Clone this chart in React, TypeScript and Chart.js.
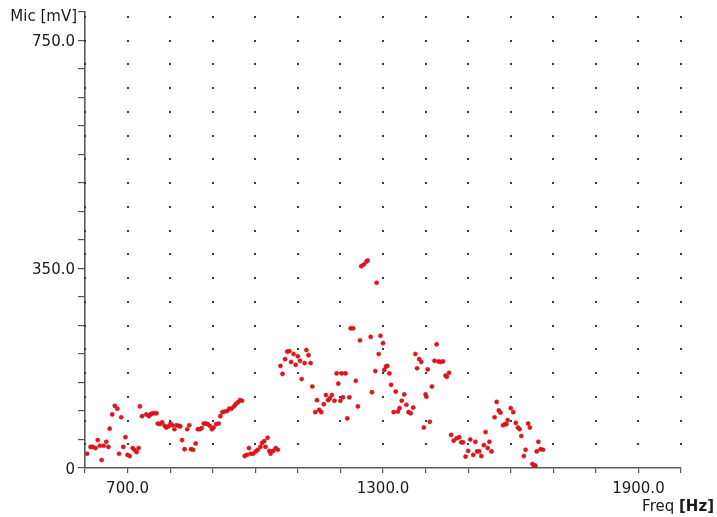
import React, { useEffect, useRef } from "react";
import { Chart, registerables } from "chart.js";

Chart.register(...registerables);

const freqHz = [
  605, 613, 618, 625, 630, 635, 639, 644, 650, 655, 658, 664, 670, 676, 680, 685, 690, 695, 700, 705,
  712, 716, 721, 726, 729, 734, 744, 750, 754, 758, 763, 768, 771, 776, 781, 787, 791, 796, 801, 805,
  810, 815, 820, 824, 828, 834, 840, 845, 849, 854, 860, 865, 870, 874, 879, 884, 888, 893, 898, 902,
  908, 914, 918, 923, 928, 934, 939, 944, 950, 954, 959, 964, 969, 975, 980, 985, 989, 995, 1001, 1006,
  1012, 1016, 1021, 1024, 1029, 1033, 1036, 1042, 1048, 1053, 1059, 1064, 1070, 1075, 1080, 1084, 1090, 1095, 1100, 1105,
  1109, 1116, 1120, 1125, 1130, 1134, 1141, 1145, 1150, 1155, 1161, 1166, 1171, 1175, 1180, 1186, 1191, 1195, 1200, 1203,
  1206, 1212, 1216, 1221, 1224, 1230, 1236, 1241, 1246, 1249, 1255, 1261, 1264, 1271, 1274, 1282, 1285, 1290, 1294, 1300,
  1303, 1307, 1310, 1315, 1319, 1325, 1330, 1335, 1339, 1344, 1350, 1355, 1360, 1365, 1371, 1376, 1380, 1385, 1390, 1396,
  1400, 1402, 1405, 1410, 1415, 1421, 1426, 1430, 1435, 1441, 1447, 1450, 1455, 1460, 1466, 1473, 1479, 1484, 1488, 1494,
  1500, 1505, 1512, 1517, 1521, 1526, 1531, 1537, 1541, 1546, 1550, 1555, 1562, 1567, 1572, 1576, 1582, 1587, 1590, 1593,
  1600, 1606, 1612, 1617, 1621, 1625, 1631, 1635, 1641, 1645, 1651, 1654, 1658, 1661, 1665, 1670, 1676,
];

const micMv = [
  25, 37, 37, 35, 49, 39, 14, 39, 46, 37, 69, 94, 109, 104, 25, 89, 37, 54, 23, 21,
  35, 32, 28, 35, 108, 91, 94, 91, 94, 96, 96, 96, 78, 77, 80, 74, 71, 73, 78, 75,
  68, 75, 74, 73, 49, 33, 68, 75, 33, 32, 43, 68, 68, 70, 78, 78, 77, 74, 68, 71,
  77, 78, 91, 98, 99, 100, 104, 104, 108, 112, 115, 119, 118, 21, 23, 35, 25, 25, 29, 32,
  37, 44, 47, 37, 53, 30, 25, 30, 35, 32, 179, 165, 191, 204, 205, 186, 200, 181, 196, 188,
  156, 184, 207, 198, 184, 143, 98, 119, 102, 98, 112, 128, 119, 122, 128, 118, 166, 148, 118, 166,
  124, 166, 87, 124, 245, 245, 153, 108, 224, 354, 357, 362, 364, 230, 133, 170, 325, 200, 232, 219,
  172, 178, 179, 166, 146, 98, 134, 99, 105, 118, 129, 111, 98, 96, 106, 200, 175, 191, 186, 71,
  129, 125, 173, 81, 143, 188, 217, 187, 186, 187, 162, 160, 167, 58, 48, 52, 54, 45, 45, 20,
  30, 50, 23, 46, 29, 29, 21, 40, 63, 35, 46, 29, 89, 116, 101, 97, 75, 77, 77, 84,
  105, 98, 79, 71, 68, 56, 21, 32, 78, 71, 7, 5, 4, 29, 46, 33, 32,
];

const xLabelValues = [700, 1300, 1900];
const yLabelValues = [0, 350, 750];
const xMin = 600;
const xMax = 2000;
const xStep = 100;
const yMin = 0;
const yMax = 800;
const yStep = 50;
const dotGridYStep = 750 / 18;

const FONT = "'DejaVu Sans', sans-serif";

const dotGridPlugin = {
  id: "dotGrid",
  beforeDatasetsDraw(chart: any) {
    const { ctx, scales } = chart;
    const xs = scales.x;
    const ys = scales.y;
    ctx.save();
    ctx.fillStyle = "#3a3a3a";
    for (let fx = xMin; fx <= xMax + 0.01; fx += xStep) {
      const px = xs.getPixelForValue(fx);
      for (let k = 1; k * dotGridYStep <= yMax; k++) {
        const py = ys.getPixelForValue(k * dotGridYStep);
        ctx.fillRect(Math.round(px) - 1, Math.round(py) - 1, 2, 2);
      }
    }
    ctx.restore();
  },
};

export default function App() {
  const canvasRef = useRef<HTMLCanvasElement | null>(null);

  useEffect(() => {
    if (!canvasRef.current) return;
    const points = freqHz.map((f, i) => ({ x: f, y: micMv[i] }));
    const chart = new Chart(canvasRef.current, {
      type: "scatter",
      data: {
        datasets: [
          {
            data: points,
            backgroundColor: "#e3151b",
            borderColor: "#c8101a",
            borderWidth: 0.5,
            pointRadius: 2.1,
          },
        ],
      },
      options: {
        animation: false,
        responsive: false,
        layout: { padding: { top: 12, right: 36, left: 0, bottom: 0 } },
        plugins: { legend: { display: false }, tooltip: { enabled: false } },
        scales: {
          x: {
            type: "linear",
            min: xMin,
            max: xMax,
            afterFit: (s: any) => {
              s.height = 49;
            },
            afterBuildTicks: (s: any) => {
              const t = [];
              for (let v = xMin; v <= xMax; v += xStep) t.push({ value: v });
              s.ticks = t;
            },
            ticks: {
              autoSkip: false,
              maxRotation: 0,
              padding: 7,
              color: "#1a1a1a",
              font: { family: FONT, size: 15 },
              callback: (v: any) => (xLabelValues.includes(Number(v)) ? Number(v).toFixed(1) : ""),
            },
            grid: {
              drawOnChartArea: false,
              drawTicks: true,
              tickLength: 5,
              color: "#555",
              lineWidth: 1.2,
            },
            border: { display: true, color: "#5a5a5a", width: 1.6 },
          },
          y: {
            type: "linear",
            min: yMin,
            max: yMax,
            afterFit: (s: any) => {
              s.width = 85;
            },
            afterBuildTicks: (s: any) => {
              const t = [];
              for (let v = yMin; v <= yMax; v += yStep) t.push({ value: v });
              s.ticks = t;
            },
            ticks: {
              autoSkip: false,
              padding: 3,
              labelOffset: 2,
              color: "#1a1a1a",
              font: { family: FONT, size: 15 },
              callback: (v: any) => {
                const n = Number(v);
                if (!yLabelValues.includes(n)) return "";
                return n === 0 ? "0" : n.toFixed(1);
              },
            },
            grid: {
              drawOnChartArea: false,
              drawTicks: true,
              tickLength: 7,
              color: "#555",
              lineWidth: 1.2,
            },
            border: { display: true, color: "#5a5a5a", width: 1.6 },
          },
        },
      },
      plugins: [dotGridPlugin],
    } as any);
    return () => chart.destroy();
  }, []);

  return (
    <div style={{ position: "fixed", left: 0, top: 0, width: 717, height: 517, background: "#fff" }}>
      <canvas ref={canvasRef} width={717} height={517} style={{ position: "absolute", left: 0, top: 0 }} />
      <div
        style={{
          position: "absolute",
          left: 0,
          top: 7,
          width: 77,
          textAlign: "right",
          fontFamily: FONT,
          fontSize: 15,
          lineHeight: "18px",
          color: "#1a1a1a",
          whiteSpace: "nowrap",
        }}
      >
        Mic [mV]
      </div>
      <div
        style={{
          position: "absolute",
          right: 3,
          top: 497,
          textAlign: "right",
          fontFamily: FONT,
          fontSize: 15,
          lineHeight: "18px",
          color: "#1a1a1a",
          whiteSpace: "nowrap",
        }}
      >
        Freq <b>[Hz]</b>
      </div>
    </div>
  );
}
